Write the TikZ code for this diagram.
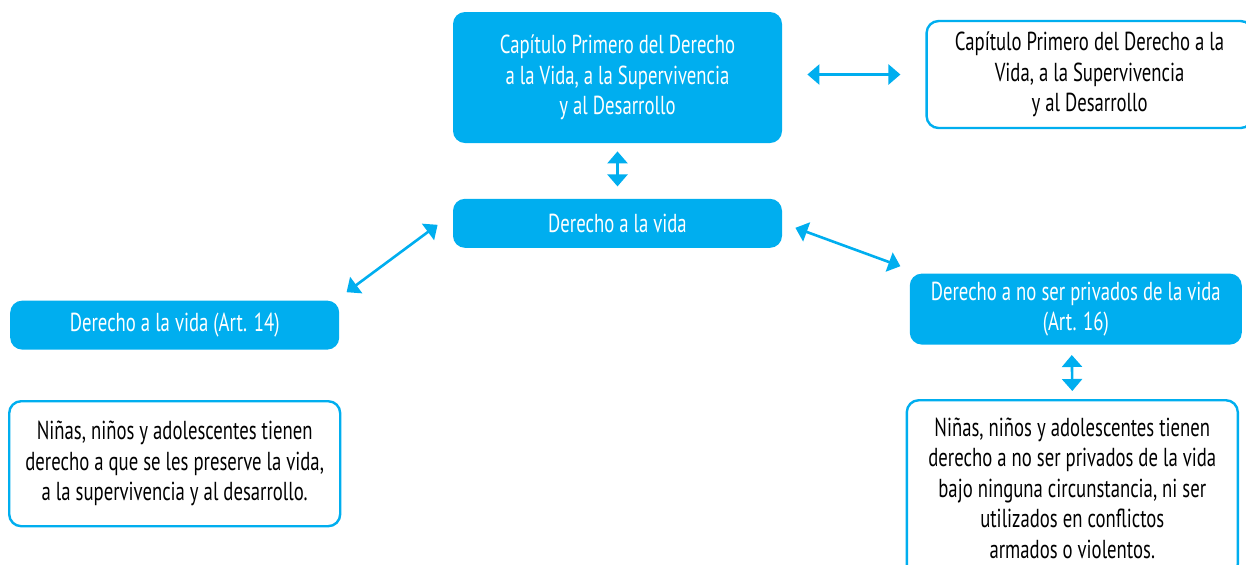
\documentclass[tikz,border=0pt]{standalone}
\usepackage{fontspec}
\setmainfont{PT Sans}[FakeStretch=0.72]
\usetikzlibrary{positioning,arrows.meta}
\definecolor{cyanbox}{HTML}{00AEEF}

\begin{document}
\begin{tikzpicture}[font=\fontsize{13}{15.2}\selectfont,
        bluebox/.style={rectangle, rounded corners=6pt, fill=cyanbox, text=white, align=center, minimum width=164.5pt, inner sep=0pt},
        whitebox/.style={rectangle, rounded corners=6pt, draw=cyanbox, line width=1.2pt, fill=white, text=black, align=center, inner sep=0pt},
        twoway/.style={cyanbox, line width=1.3pt, {Triangle[width=10pt,length=6pt]}-{Triangle[width=10pt,length=6pt]}}]

        \useasboundingbox (0,0) rectangle (623pt,-282pt);

        \node[bluebox, minimum height=65.5pt] (capitulo) at (308.75pt,-38.75pt) {Capítulo Primero del Derecho\\a la Vida, a la Supervivencia\\y al Desarrollo};
        \node[whitebox, minimum width=163pt, minimum height=53.5pt] (capituloder) [right=71.5pt of capitulo, yshift=1.5pt] {Capítulo Primero del Derecho a la\\Vida, a la Supervivencia\\y al Desarrollo};
        \node[bluebox, minimum height=24.5pt] (vida) [below=27.5pt of capitulo] {Derecho a la vida};
        \node[bluebox, minimum height=24.5pt] (vida14) [below left=26pt and 56.5pt of vida] {Derecho a la vida (Art. 14)};
        \node[whitebox, minimum width=165.5pt, minimum height=62.5pt] (preserva) [below=25pt of vida14] {Niñas, niños y adolescentes tienen\\derecho a que se les preserve la vida,\\a la supervivencia y al desarrollo.};
        \node[bluebox, minimum width=166pt, minimum height=35.5pt] (vida16) [below right=12.5pt and 63.5pt of vida] {Derecho a no ser privados de la vida\\(Art. 16)};
        \node[whitebox, minimum width=165.5pt, minimum height=88pt, anchor=north] (privados) at ([xshift=-1.75pt, yshift=-27pt]vida16.south) {Niñas, niños y adolescentes tienen\\derecho a no ser privados de la vida\\bajo ninguna circunstancia, ni ser\\utilizados en conflictos\\armados o violentos.};

        \draw[twoway] ([xshift=12.5pt, yshift=1.5pt]capitulo.east) -- ([xshift=-12.5pt]capituloder.west);
        \draw[twoway] ([yshift=-4pt]capitulo.south) -- ([yshift=6pt]vida.north);
        \draw[twoway] ([xshift=-7.5pt, yshift=-0.75pt]vida.west) -- ([xshift=3.5pt, yshift=4pt]vida14.north east);
        \draw[twoway] ([xshift=6.5pt, yshift=-2.25pt]vida.east) -- ([xshift=-4.5pt, yshift=3.5pt]vida16.north west);
        \draw[twoway] ([xshift=-2pt, yshift=-5pt]vida16.south) -- ([yshift=4pt]privados.north);

\end{tikzpicture}
\end{document}
